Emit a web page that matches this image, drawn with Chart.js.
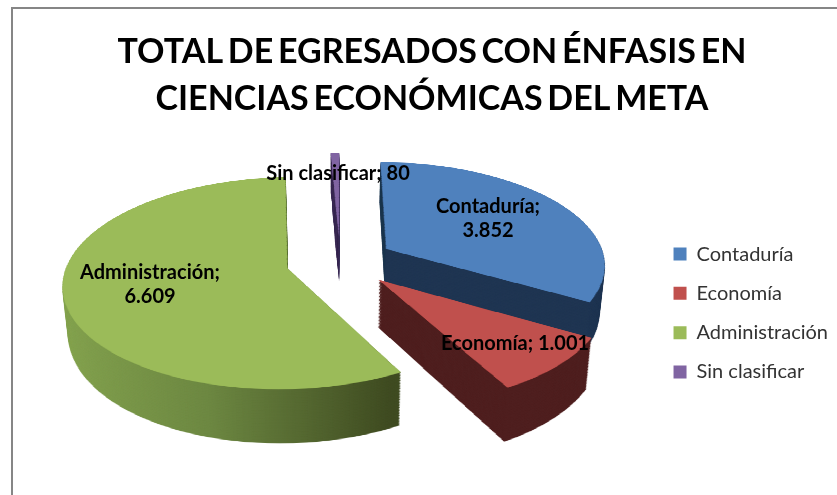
<!DOCTYPE html>
<html lang="es">
<head>
<meta charset="utf-8">
<title>Total de egresados</title>
<script src="https://cdn.jsdelivr.net/npm/chart.js@4"></script>
<style>
  html, body { margin: 0; background: #fff; overflow: hidden; height: 100%; }
  #marco { position: absolute; left: 11px; top: 7px; width: 857px; height: 608px; border-left: 2px solid #868686; border-top: 2px solid #868686; }
  canvas { display: block; }
</style>
</head>
<body>
<div id="marco"><canvas id="grafica" width="857" height="608"></canvas></div>
<script>
// datos
const categorias = ['Contaduría', 'Economía', 'Administración', 'Sin clasificar']
const egresados = [3852, 1001, 6609, 80]
const coloresCara = ['#4f81bd', '#c0504d', '#9bbb59', '#8064a2']
const coloresLado = ['#1f3552', '#4f1f1f', null, '#3c2c55']
const degradadoAdministracion = ['#86a550', '#6d8842', '#3f4b21']

// vista 3D de la torta, en pixeles del canvas
const centroX = 327
const centroY = 252
const radioX = 219
const radioY = 102
const fuga = 0.14
const profundidad = 46
const separacion = 0.248

// etiquetas de datos: centro de cada bloque de texto
const posEtiquetas = [[475, 210], [502, 335], [137, 276], [325, 165]]
const etiquetaPartida = [true, false, true, false]

const formatoMiles = (n) => String(n).replace(/\B(?=(\d{3})+$)/g, '.')

// función para pintar una rebanada plana en un canvas aparte
function rebanadaPlana(arco, radio, lado) {
  const capa = document.createElement('canvas')
  capa.width = capa.height = lado
  const c = capa.getContext('2d')
  const medio = (arco.startAngle + arco.endAngle) / 2
  c.translate(lado / 2 - arco.x + Math.cos(medio) * separacion * radio, lado / 2 - arco.y + Math.sin(medio) * separacion * radio)
  arco.draw(c)
  return capa
}

// copia la cara con la misma forma pero con el color del costado
function rebanadaLado(cara, i, radio) {
  const capa = document.createElement('canvas')
  capa.width = capa.height = cara.width
  const c = capa.getContext('2d')
  c.drawImage(cara, 0, 0)
  c.globalCompositeOperation = 'source-in'
  if (coloresLado[i]) {
    c.fillStyle = coloresLado[i]
  } else {
    const g = c.createLinearGradient(cara.width / 2 - 1.24 * radio, 0, cara.width / 2 + 0.2 * radio, 0)
    degradadoAdministracion.forEach((color, k) => g.addColorStop(k / (degradadoAdministracion.length - 1), color))
    c.fillStyle = g
  }
  c.fillRect(0, 0, capa.width, capa.height)
  return capa
}

// dibuja la capa plana por franjas, aplicando la perspectiva
function dibujaEnPerspectiva(ctx, capa, radio, alto) {
  const lado = capa.width
  const paso = 2
  for (let sy = 0; sy < lado; sy += paso) {
    const v0 = (sy - lado / 2) / radio
    const v1 = (sy + paso - lado / 2) / radio
    const vm = (v0 + v1) / 2
    const y0 = centroY + (radioY * v0 + profundidad * alto) / (1 - fuga * v0)
    const y1 = centroY + (radioY * v1 + profundidad * alto) / (1 - fuga * v1)
    const sx = radioX / (1 - fuga * vm) * (1 - 0.02 * alto) / radio
    ctx.drawImage(capa, 0, sy, lado, paso, centroX - lado / 2 * sx, y0, lado * sx, y1 - y0 + 0.6)
  }
}

const torta3d = {
  id: 'torta3d',
  afterInit(chart) {
    // el título del original tiene los espacios muy cerrados
    const titulo = chart.titleBlock
    const dibujaTitulo = titulo.draw
    titulo.draw = function (area) {
      chart.ctx.wordSpacing = '-3.5px'
      dibujaTitulo.call(titulo, area)
      chart.ctx.wordSpacing = '0px'
    }
  },
  beforeDatasetsDraw(chart) {
    const ctx = chart.ctx
    const arcos = chart.getDatasetMeta(0).data
    const radio = arcos[0].outerRadius
    const lado = Math.ceil(radio * 2 * (1 + separacion) + 8)
    // de atrás hacia adelante
    ;[3, 2, 0, 1].forEach((i) => {
      const cara = rebanadaPlana(arcos[i], radio, lado)
      const costado = rebanadaLado(cara, i, radio)
      for (let alto = 1; alto > 0; alto -= 0.03) {
        dibujaEnPerspectiva(ctx, costado, radio, alto)
      }
      dibujaEnPerspectiva(ctx, cara, radio, 0)
    })
    // etiquetas
    ctx.save()
    ctx.font = 'bold 20px Lato'
    ctx.fillStyle = '#000'
    ctx.textAlign = 'center'
    ctx.textBaseline = 'middle'
    categorias.forEach((nombre, i) => {
      const [x, y] = posEtiquetas[i]
      const valor = formatoMiles(egresados[i])
      if (etiquetaPartida[i]) {
        ctx.fillText(nombre + ';', x, y - 12)
        ctx.fillText(valor, x, y + 12)
      } else {
        ctx.fillText(nombre + '; ' + valor, x, y)
      }
    })
    ctx.restore()
    return false
  }
}

new Chart(document.getElementById('grafica'), {
  type: 'pie',
  data: {
    labels: categorias,
    datasets: [{
      data: egresados,
      backgroundColor: coloresCara,
      borderWidth: 0
    }]
  },
  plugins: [torta3d],
  options: {
    responsive: false,
    animation: false,
    layout: { padding: { left: 13, right: 32, bottom: 0 } },
    plugins: {
      tooltip: { enabled: false },
      title: {
        display: true,
        text: ['TOTAL DE EGRESADOS CON ÉNFASIS EN', 'CIENCIAS ECONÓMICAS DEL META'],
        color: '#000',
        font: { family: 'Lato', size: 34, weight: 'bold', lineHeight: 1.37 },
        padding: { top: 20, bottom: 9 }
      },
      legend: {
        position: 'right',
        labels: {
          boxWidth: 13,
          boxHeight: 13,
          padding: 19.3,
          color: '#333',
          font: { family: 'Lato', size: 20 }
        }
      }
    }
  }
})
</script>
</body>
</html>
